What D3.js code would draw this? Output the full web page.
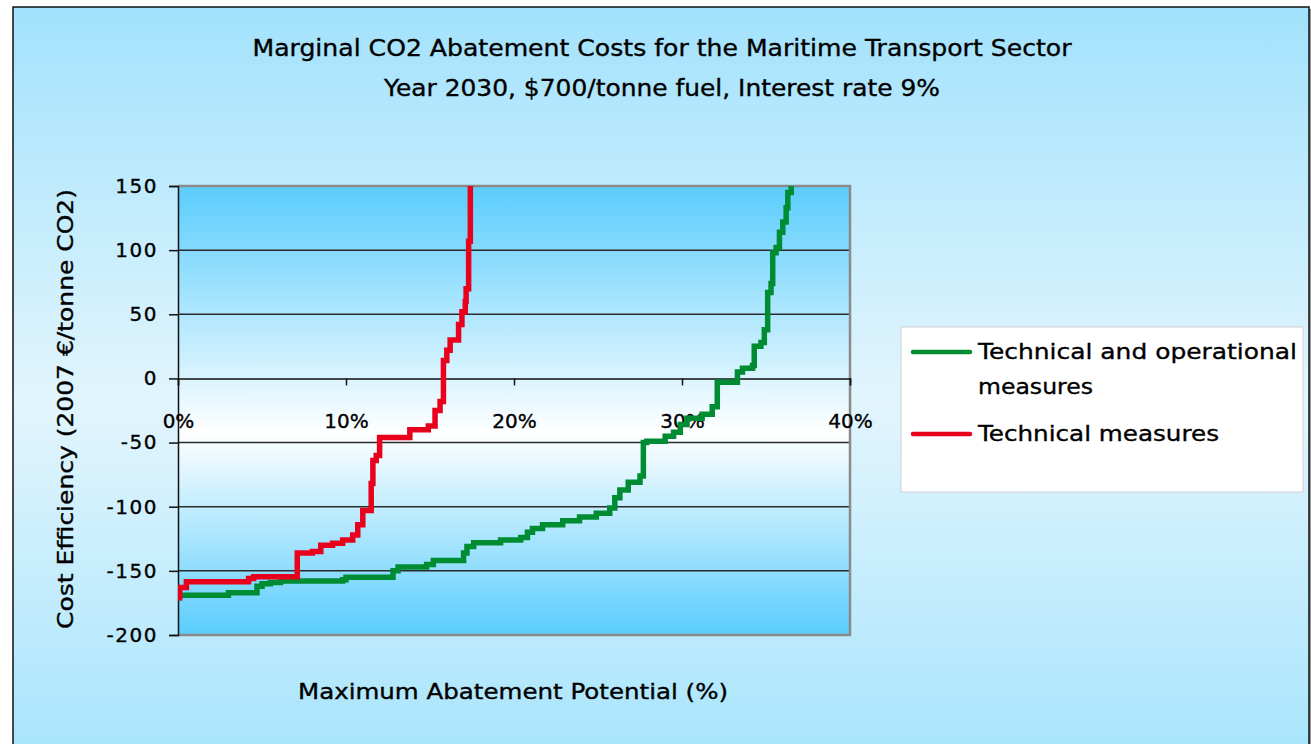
<!DOCTYPE html>
<html>
<head>
<meta charset="utf-8">
<script src="https://cdn.jsdelivr.net/npm/d3@7"></script>
<style>
  html, body { margin: 0; padding: 0; background: #ffffff; }
  svg { display: block; }
  text { font-family: "DejaVu Sans", Verdana, sans-serif; fill: #000; stroke: #000; stroke-width: 0.35px; }
</style>
</head>
<body>
<svg id="chart" width="1311" height="744"></svg>
<script>
// Marginal abatement cost curves: [cumulative abatement potential (%), cost (EUR/tonne CO2)]
// Each point marks where the next measure starts (drawn as a staircase).
const technicalAndOperational = [
  [0, -171], [0.05, -169], [3.0, -167], [4.7, -162], [5.0, -160], [5.5, -159],
  [6.1, -158], [9.8, -157], [10.0, -155], [12.8, -150], [13.1, -147], [14.8, -145],
  [15.2, -142], [17.0, -136], [17.2, -131], [17.6, -128], [19.2, -126], [20.4, -124],
  [20.8, -120], [21.1, -117], [21.7, -114], [22.9, -111], [23.9, -108], [24.9, -105],
  [25.7, -101], [26.0, -93], [26.3, -87], [26.8, -81], [27.5, -76], [27.7, -50],
  [27.9, -49], [29.0, -45], [29.5, -42], [29.9, -36], [30.3, -31], [31.2, -28],
  [31.8, -22], [32.1, -3], [33.3, 5], [33.6, 8], [34.2, 10], [34.3, 25],
  [34.7, 28], [34.9, 38], [35.1, 67], [35.3, 74], [35.4, 98], [35.6, 102],
  [35.8, 114], [36.0, 122], [36.2, 133], [36.3, 145], [36.5, 150]
];
const technicalOnly = [
  [0, -171], [0.1, -163], [0.5, -158.5], [4.2, -156], [4.5, -154.5], [7.1, -136],
  [8.0, -135], [8.5, -130], [9.2, -128.5], [9.8, -126], [10.4, -122], [10.7, -114],
  [11.0, -103], [11.5, -82], [11.6, -64], [11.8, -60], [12.0, -46], [13.8, -40],
  [14.9, -37], [15.3, -25], [15.6, -18], [15.8, 14], [16.0, 22], [16.2, 30],
  [16.7, 42], [16.9, 52], [17.1, 60], [17.15, 70], [17.3, 107], [17.4, 150]
];
const seriesNames = ["Technical and operational measures", "Technical measures"];
const seriesColors = ["#008c33", "#e8001c"];
const xTicks = [0, 10, 20, 30, 40];
const yTicks = [-200, -150, -100, -50, 0, 50, 100, 150];
const titleLines = [
  "Marginal CO2 Abatement Costs for the Maritime Transport Sector",
  "Year 2030, $700/tonne fuel, Interest rate 9%"
];
const xTitle = "Maximum Abatement Potential (%)";
const yTitle = "Cost Efficiency (2007 €/tonne CO2)";

const svg = d3.select("#chart");
const defs = svg.append("defs");

// outer panel gradient
const bg = defs.append("linearGradient").attr("id", "panelGrad")
  .attr("x1", 0).attr("y1", 0).attr("x2", 0).attr("y2", 1);
bg.append("stop").attr("offset", "0%").attr("stop-color", "#a2e2fc");
bg.append("stop").attr("offset", "52%").attr("stop-color", "#e2f5fd");
bg.append("stop").attr("offset", "100%").attr("stop-color", "#a6e4fc");

// plot area gradient: blue - white - blue
const pg = defs.append("linearGradient").attr("id", "plotGrad")
  .attr("x1", 0).attr("y1", 0).attr("x2", 0).attr("y2", 1);
pg.append("stop").attr("offset", "0%").attr("stop-color", "#5acdfd");
pg.append("stop").attr("offset", "55%").attr("stop-color", "#ffffff");
pg.append("stop").attr("offset", "100%").attr("stop-color", "#5acdfd");

// panel with shadow border
svg.append("rect").attr("x", 15).attr("y", 9).attr("width", 1300).attr("height", 760)
  .attr("fill", "#9a9a9a");
svg.append("rect").attr("x", 13).attr("y", 7).attr("width", 1296).attr("height", 760)
  .attr("fill", "url(#panelGrad)").attr("stroke", "#111").attr("stroke-width", 1.5);

const plot = { left: 178, top: 186, right: 850, bottom: 635 };
const x = d3.scaleLinear().domain([0, 40]).range([plot.left, plot.right]);
const y = d3.scaleLinear().domain([-200, 150]).range([plot.bottom, plot.top]);

// plot background
svg.append("rect").attr("x", plot.left).attr("y", plot.top)
  .attr("width", plot.right - plot.left).attr("height", plot.bottom - plot.top)
  .attr("fill", "url(#plotGrad)");

// horizontal gridlines
svg.append("g").selectAll("line")
  .data(yTicks.filter(v => v > -200 && v < 150 && v !== 0))
  .join("line")
  .attr("x1", plot.left).attr("x2", plot.right)
  .attr("y1", d => y(d)).attr("y2", d => y(d))
  .attr("stroke", "#2a2a2a").attr("stroke-width", 1.5);

// plot frame (top, right, bottom)
svg.append("path")
  .attr("d", `M${plot.left},${plot.top}H${plot.right}V${plot.bottom}H${plot.left}`)
  .attr("fill", "none").attr("stroke", "#8a8a8a").attr("stroke-width", 2.5);

// y axis
const yAxis = svg.append("g")
  .attr("transform", `translate(${plot.left},0)`)
  .call(d3.axisLeft(y).tickValues(yTicks).tickSize(9).tickPadding(11)
    .tickFormat(d => d < 0 ? "-" + Math.abs(d) : String(d)));
yAxis.select(".domain").attr("stroke", "#111").attr("stroke-width", 1.5);
yAxis.selectAll(".tick line").attr("stroke", "#111").attr("stroke-width", 1.5);
yAxis.selectAll("text").attr("font-size", 20).attr("letter-spacing", 1.5)
  .attr("font-family", "DejaVu Sans").attr("fill", "#000");

// x axis crossing at zero cost
const xAxis = svg.append("g")
  .attr("transform", `translate(0,${y(0)})`)
  .call(d3.axisBottom(x).tickValues(xTicks).tickSize(7).tickPadding(28)
    .tickFormat(d => d + "%"));
xAxis.select(".domain").attr("stroke", "#111").attr("stroke-width", 1.5);
xAxis.selectAll(".tick line").attr("stroke", "#111").attr("stroke-width", 1.5);
xAxis.selectAll("text").attr("font-size", 20)
  .attr("font-family", "DejaVu Sans").attr("fill", "#000");

// curves
const line = d3.line().x(d => x(d[0])).y(d => y(d[1])).curve(d3.curveStepAfter);
svg.append("defs").append("clipPath").attr("id", "plotClip")
  .append("rect").attr("x", plot.left).attr("y", plot.top)
  .attr("width", plot.right - plot.left).attr("height", plot.bottom - plot.top);
const curves = svg.append("g").attr("clip-path", "url(#plotClip)");
[technicalAndOperational, technicalOnly].forEach((data, i) => {
  curves.append("path").datum(data)
    .attr("d", line)
    .attr("fill", "none")
    .attr("stroke", seriesColors[i])
    .attr("stroke-width", 5.5)
    .attr("stroke-linejoin", "miter");
});

// titles
svg.append("text").attr("x", 662).attr("y", 56).attr("text-anchor", "middle")
  .attr("font-size", 23).attr("textLength", 819).attr("lengthAdjust", "spacingAndGlyphs")
  .text(titleLines[0]);
svg.append("text").attr("x", 662).attr("y", 96).attr("text-anchor", "middle")
  .attr("font-size", 23).attr("textLength", 556).attr("lengthAdjust", "spacingAndGlyphs")
  .text(titleLines[1]);

svg.append("text").attr("x", 513).attr("y", 699).attr("text-anchor", "middle")
  .attr("font-size", 21).attr("textLength", 430).attr("lengthAdjust", "spacingAndGlyphs")
  .text(xTitle);

svg.append("text")
  .attr("transform", `translate(73,${409}) rotate(-90)`)
  .attr("text-anchor", "middle")
  .attr("font-size", 21).attr("textLength", 440).attr("lengthAdjust", "spacingAndGlyphs")
  .text(yTitle);

// legend
const legend = svg.append("g");
legend.append("rect").attr("x", 901).attr("y", 327).attr("width", 402).attr("height", 165)
  .attr("fill", "#ffffff").attr("stroke", "#d0d0d0").attr("stroke-width", 1);
const legendRows = [
  { lines: ["Technical and operational", "measures"], widths: [319, 115], lineY: 352 },
  { lines: ["Technical measures"], widths: [241], lineY: 434 }
];
legendRows.forEach((row, i) => {
  legend.append("line").attr("x1", 913).attr("x2", 970)
    .attr("y1", row.lineY).attr("y2", row.lineY)
    .attr("stroke", seriesColors[i]).attr("stroke-width", 4.5).attr("stroke-linecap", "round");
  row.lines.forEach((t, j) => {
    legend.append("text").attr("x", 978).attr("y", row.lineY + 7 + j * 35)
      .attr("font-size", 22).attr("textLength", row.widths[j]).attr("lengthAdjust", "spacingAndGlyphs")
      .text(t);
  });
});
</script>
</body>
</html>
